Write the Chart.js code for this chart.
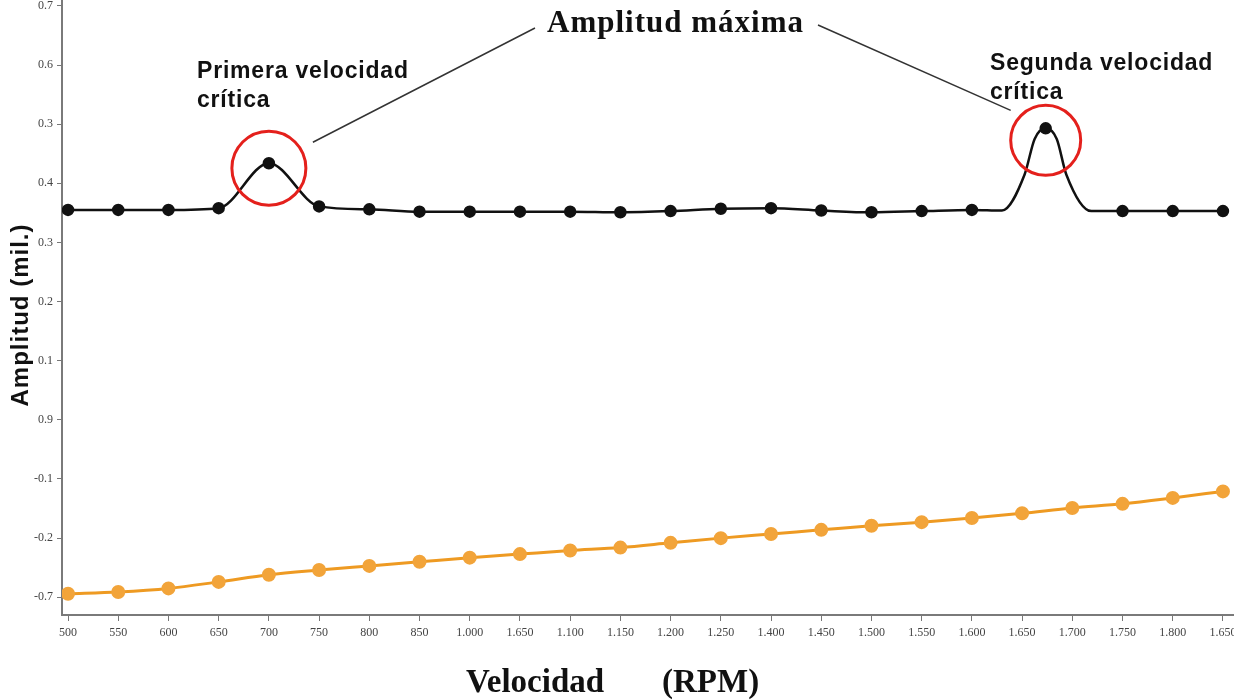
<!DOCTYPE html>
<html>
<head>
<meta charset="utf-8">
<script src="https://cdn.jsdelivr.net/npm/chart.js@4.4.1/dist/chart.umd.min.js"></script>
<style>
  html, body { margin: 0; padding: 0; background: #fff; }
  canvas { display: block; }
</style>
</head>
<body>
<canvas id="chartCriticas" width="1234" height="700"></canvas>
<script>
'use strict'

// velocidades (RPM), tal como salen en el eje
const rpmLabels = ['500', '550', '600', '650', '700', '750', '800', '850', '1.000', '1.650', '1.100', '1.150', '1.200', '1.250', '1.400', '1.450', '1.500', '1.550', '1.600', '1.650', '1.700', '1.750', '1.800', '1.650'];

// eje Y: valores reales y la etiqueta impresa en cada uno
const yTickValues = [-0.3, -0.2, -0.1, 0, 0.1, 0.2, 0.3, 0.4, 0.5, 0.6, 0.7];
const yTickLabels = ['-0.7', '-0.2', '-0.1', '0.9', '0.1', '0.2', '0.3', '0.4', '0.3', '0.6', '0.7'];

// amplitud medida (serie negra), posición = índice de velocidad
const amplitudX = [0, 1, 2, 3, 4, 5, 6, 7, 8, 9, 10, 11, 12, 13, 14, 15, 16, 17, 18, 19.47, 21, 22, 23];
const amplitudY = [0.355, 0.355, 0.355, 0.358, 0.434, 0.361, 0.356, 0.352, 0.352, 0.352, 0.352, 0.351, 0.353, 0.357, 0.358, 0.354, 0.351, 0.353, 0.355, 0.493, 0.353, 0.353, 0.353];

// puntos de la curva sin marcador (forma del segundo pico)
const curvaX = [18.6, 19.05, 19.25, 19.69, 19.88, 20.38];
const curvaY = [0.354, 0.415, 0.475, 0.475, 0.415, 0.353];

// serie naranja
const faseY = [-0.294, -0.291, -0.285, -0.274, -0.262, -0.254, -0.247, -0.240, -0.233, -0.227, -0.221, -0.216, -0.208, -0.200, -0.193, -0.186, -0.179, -0.173, -0.166, -0.158, -0.149, -0.142, -0.132, -0.121];

const primerPico = 4;
const segundoPico = 19;

let blackData = amplitudX.map((x, i) => ({x: x, y: amplitudY[i], mark: true}))
	.concat(curvaX.map((x, i) => ({x: x, y: curvaY[i], mark: false})))
	.sort((a, b) => a.x - b.x);

let orangeData = faseY.map((y, i) => ({x: i, y: y, mark: true}));

const tickFont = {family: "'Liberation Serif', serif", size: 12};

const annotations = {
	id: 'annotations',
	afterDatasetsDraw(chart) {
		const {ctx, scales: {x, y}} = chart;
		ctx.save();

		// circulos rojos sobre los picos
		const c1x = x.getPixelForValue(amplitudX[primerPico]);
		const c1y = y.getPixelForValue(amplitudY[primerPico]) + 5;
		const c2x = x.getPixelForValue(amplitudX[segundoPico]);
		const c2y = y.getPixelForValue(amplitudY[segundoPico]) + 12;
		ctx.strokeStyle = '#E4201C';
		ctx.lineWidth = 3;
		ctx.beginPath();
		ctx.arc(c1x, c1y, 37, 0, Math.PI * 2);
		ctx.stroke();
		ctx.beginPath();
		ctx.arc(c2x, c2y, 35, 0, Math.PI * 2);
		ctx.stroke();

		// lineas hacia el titulo
		ctx.strokeStyle = '#333';
		ctx.lineWidth = 1.5;
		ctx.beginPath();
		ctx.moveTo(c1x + 44, c1y - 26);
		ctx.lineTo(535, 28);
		ctx.moveTo(818, 25);
		ctx.lineTo(c2x - 35, c2y - 30);
		ctx.stroke();

		ctx.fillStyle = '#111';
		ctx.textBaseline = 'alphabetic';
		ctx.textAlign = 'left';
		ctx.font = "bold 31px 'Liberation Serif', serif";
		ctx.letterSpacing = '1px';
		ctx.fillText('Amplitud máxima', 547, 32);

		ctx.font = "bold 23px 'Liberation Sans', Arial, sans-serif";
		ctx.letterSpacing = '0.8px';
		ctx.fillText('Primera velocidad', 197, 78);
		ctx.fillText('crítica', 197, 107);
		ctx.fillText('Segunda velocidad', 990, 70);
		ctx.fillText('crítica', 990, 99);

		// titulos de ejes
		ctx.font = "bold 33px 'Liberation Serif', serif";
		ctx.letterSpacing = '0px';
		ctx.fillText('Velocidad', 466, 692);
		ctx.fillText('(RPM)', 662, 692);

		ctx.save();
		ctx.translate(28, 315);
		ctx.rotate(-Math.PI / 2);
		ctx.textAlign = 'center';
		ctx.font = "bold 24px 'Liberation Sans', Arial, sans-serif";
		ctx.letterSpacing = '1px';
		ctx.fillText('Amplitud (mil.)', 0, 0);
		ctx.restore();

		ctx.restore();
	},
};

let chartCriticas = new Chart(document.getElementById('chartCriticas'), {
	type: 'line',
	data: {
		datasets: [
			{
				data: orangeData,
				borderColor: '#EE9A22',
				backgroundColor: '#F2A43A',
				pointBorderColor: '#F2A43A',
				borderWidth: 3,
				pointRadius: 5.5,
				cubicInterpolationMode: 'monotone',
			},
			{
				data: blackData,
				borderColor: '#111',
				backgroundColor: '#111',
				pointBorderColor: '#111',
				borderWidth: 2.5,
				pointRadius: (c) => c.raw && c.raw.mark ? 5 : 0,
				cubicInterpolationMode: 'monotone',
			},
		],
	},
	options: {
		responsive: false,
		animation: false,
		parsing: false,
		layout: {padding: 0, autoPadding: false},
		plugins: {
			legend: {display: false},
			tooltip: {enabled: false},
		},
		scales: {
			x: {
				type: 'linear',
				min: -0.12,
				max: 23.22,
				afterBuildTicks: (scale) => {
					scale.ticks = rpmLabels.map((l, i) => ({value: i}));
				},
				afterFit: (scale) => {
					scale.height = 85;
					scale.paddingLeft = 0;
					scale.paddingRight = 0;
				},
				ticks: {
					autoSkip: false,
					maxRotation: 0,
					padding: 5,
					color: '#444',
					font: tickFont,
					callback: (v, i) => rpmLabels[i],
				},
				grid: {drawOnChartArea: false, drawTicks: true, tickLength: 6, color: '#777'},
				border: {display: true, color: '#7a7a7a', width: 2},
			},
			y: {
				type: 'linear',
				min: -0.33,
				max: 0.71,
				afterBuildTicks: (scale) => {
					scale.ticks = yTickValues.map(v => ({value: v}));
				},
				afterFit: (scale) => {
					scale.width = 62;
					scale.paddingTop = 0;
					scale.paddingBottom = 0;
				},
				ticks: {
					padding: 4,
					color: '#444',
					font: tickFont,
					callback: (v, i) => yTickLabels[i],
				},
				grid: {drawOnChartArea: false, drawTicks: true, tickLength: 5, color: '#777'},
				border: {display: true, color: '#7a7a7a', width: 2},
			},
		},
	},
	plugins: [annotations],
});
</script>
</body>
</html>
